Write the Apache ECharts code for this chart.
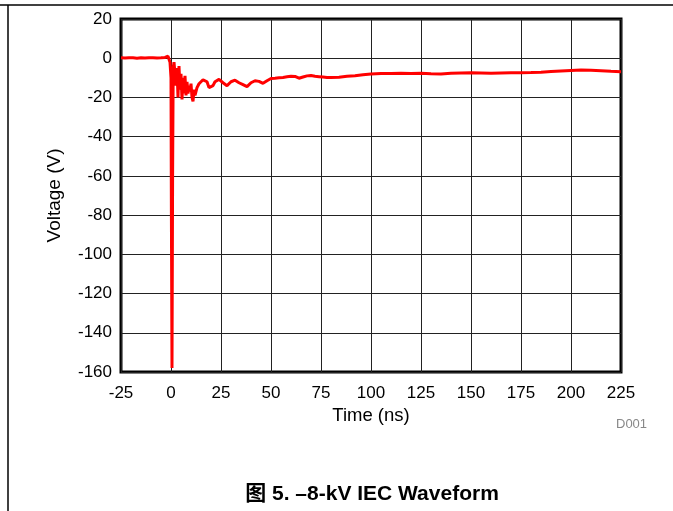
<!DOCTYPE html>
<html>
<head>
<meta charset="utf-8">
<script src="https://cdn.jsdelivr.net/npm/echarts@6/dist/echarts.min.js"></script>
<style>html,body{margin:0;padding:0;background:#fff;}#c{width:673px;height:511px;}</style>
</head>
<body>
<div id="c"></div>
<script>
const timeNs = [-25,-23,-21,-19,-17,-15,-13,-11,-9,-7,-5,-3,-2,-1.5,-1,-0.5,0,0.2,0.5,0.8,1.1,1.5,2,2.5,3,3.5,4,4.5,5,5.5,6,6.5,7,7.5,8,8.5,9,9.5,10,10.5,11,11.5,12,13,14,15,16,17,18,19,20,21,22,23,24,25,26,27,28,29,30,31,32,33,34,35,36,37,38,39,40,42,44,46,48,50,52,54,56,58,60,62,64,66,68,70,72,74,76,78,80,84,88,92,96,100,105,110,115,120,125,130,135,140,145,150,155,160,165,170,175,180,185,190,195,200,205,210,215,220,225];
const voltageV = [0.2,0.1,0.3,0.2,0.0,0.2,0.1,0.3,0.2,0.1,0.2,0.4,1.2,1.0,0.3,-2,-10,-80,-158,-60,-5,-2,-1.5,-14,-5,-20,-4,-16,-8,-21,-10,-18,-9,-19,-12,-18,-14,-17,-13,-20,-22,-16,-19,-15,-13,-12,-11,-10.5,-12,-15,-16,-14,-12,-11,-10.8,-11.5,-12.5,-13.5,-14,-13,-12,-11.5,-11.2,-11.5,-12.5,-13,-13.5,-14,-14.5,-13.5,-12.5,-11.5,-11.8,-12.8,-11.5,-10.3,-10.2,-10.0,-9.8,-9.5,-9.2,-9.3,-10.2,-9.6,-9,-8.8,-9.2,-9.4,-9.6,-9.8,-9.8,-9.7,-9.2,-8.9,-8.4,-8.1,-7.8,-7.8,-7.7,-7.8,-7.7,-7.9,-8.0,-7.7,-7.5,-7.4,-7.5,-7.6,-7.5,-7.4,-7.4,-7.3,-7.1,-6.8,-6.5,-6.2,-6.0,-6.1,-6.4,-6.7,-6.9];
const xName = 'Time (ns)';
const yName = 'Voltage (V)';
const caption = '图 5. –8-kV IEC Waveform';
const footnote = 'D001';

const font = "'Liberation Sans', Arial, sans-serif";
const chart = echarts.init(document.getElementById('c'), null, {renderer: 'canvas'});
chart.setOption({
  animation: false,
  backgroundColor: '#fff',
  grid: {left: 121, top: 19, width: 500, height: 353, show: true, borderColor: '#000', borderWidth: 3, backgroundColor: 'transparent'},
  xAxis: {
    type: 'value', min: -25, max: 225, interval: 25,
    name: xName, nameLocation: 'middle', nameGap: 34,
    nameTextStyle: {fontFamily: font, fontSize: 18.5, color: '#000'},
    axisLine: {show: false}, axisTick: {show: false},
    axisLabel: {fontFamily: font, fontSize: 17, color: '#000', margin: 13},
    splitLine: {show: true, lineStyle: {color: '#222', width: 1}}
  },
  yAxis: {
    type: 'value', min: -160, max: 20, interval: 20,
    name: yName, nameLocation: 'middle', nameGap: 57, nameRotate: 90,
    nameTextStyle: {fontFamily: font, fontSize: 19, color: '#000'},
    axisLine: {show: false}, axisTick: {show: false},
    axisLabel: {fontFamily: font, fontSize: 17, color: '#000', margin: 9},
    splitLine: {show: true, lineStyle: {color: '#222', width: 1}}
  },
  series: [{
    type: 'line', showSymbol: false, symbol: 'none',
    data: timeNs.map((t, i) => [t, voltageV[i]]),
    lineStyle: {color: '#ff0000', width: 3},
    z: 3
  }],
  graphic: [
    {type: 'line', shape: {x1: 0, y1: 5, x2: 673, y2: 5}, style: {stroke: '#000', lineWidth: 1.5}},
    {type: 'line', shape: {x1: 8, y1: 5, x2: 8, y2: 511}, style: {stroke: '#000', lineWidth: 1.5}},
    {type: 'text', left: 616, top: 418, style: {text: footnote, fontFamily: font, fontSize: 13, fill: '#888'}},
    {type: 'text', x: 372, y: 494, style: {text: caption, fontFamily: "'Liberation Sans', 'Noto Sans CJK SC', sans-serif", fontWeight: 'bold', fontSize: 21, fill: '#000', align: 'center', verticalAlign: 'middle'}}
  ]
});
</script>
</body>
</html>
